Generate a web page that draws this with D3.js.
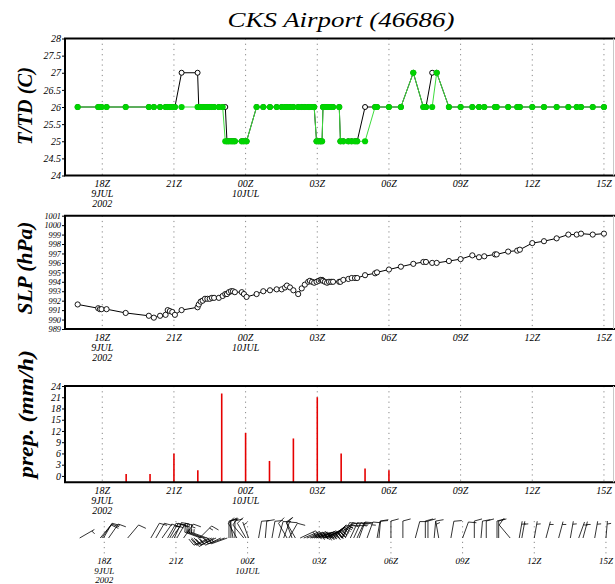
<!DOCTYPE html>
<html>
<head>
<meta charset="utf-8">
<script src="https://cdn.jsdelivr.net/npm/d3@7"></script>
<style>
  body { margin: 0; background: #fff; }
  svg { display: block; }
  text { font-family: "Liberation Serif", "DejaVu Serif", serif; font-style: italic; fill: #000; }
</style>
</head>
<body>
<svg id="chart" width="615" height="584"></svg>
<script>
// Observation times, hours since 2002-07-09 00Z
const obsHour = [
  16.97,17.83,17.90,17.97,18.18,18.98,19.95,20.16,20.42,20.65,
  20.74,20.83,20.93,21.04,21.32,21.99,22.04,22.12,22.20,22.30,
  22.40,22.50,22.59,22.68,22.88,23.04,23.15,23.22,23.30,23.39,
  23.47,23.55,23.84,23.93,24.04,24.46,24.74,25.02,25.30,25.51,
  25.65,25.73,25.86,26.00,26.20,26.35,26.48,26.62,26.69,26.78,
  26.87,26.97,27.06,27.14,27.20,27.24,27.32,27.41,27.49,27.58,
  27.66,27.92,27.97,28.09,28.30,28.44,28.58,28.67,29.00,29.42,
  29.50,30.00,30.50,31.02,31.44,31.55,31.81,32.00,32.51,33.00,
  33.49,33.77,33.99,34.44,34.51,34.99,35.37,35.48,36.00,36.49,
  37.02,37.51,37.86,38.04,38.53,39.00
];
// Temperature (C)
const temp = [
  26,26,26,26,26,26,26,26,26,26,
  26,26,26,26,27,27,26,26,26,26,
  26,26,26,26,26,26,26,25,25,25,
  25,25,25,25,25,26,26,26,26,26,
  26,26,26,26,26,26,26,26,26,26,
  26,25,25,25,25,26,26,26,26,26,
  26,26,25,25,25,25,25,25,26,26,
  26,26,26,27,26,26,27,27,26,26,
  26,26,26,26,26,26,26,26,26,26,
  26,26,26,26,26,26
];
// Dew point (C)
const dewpt = [
  26,26,26,26,26,26,26,26,26,26,
  26,26,26,26,26,26,26,26,26,26,
  26,26,26,26,26,26,25,25,25,25,
  25,25,25,25,25,26,26,26,26,26,
  26,26,26,26,26,26,26,26,26,26,
  26,25,25,25,25,26,26,26,26,26,
  26,26,25,25,25,25,25,25,25,26,
  26,26,26,27,26,26,26,27,26,26,
  26,26,26,26,26,26,26,26,26,26,
  26,26,26,26,26,26
];
// Sea-level pressure (hPa)
const slp = [
  991.6,991.2,991.1,991.1,991.1,990.7,990.4,990.2,990.4,990.5,
  991.0,990.9,990.8,990.5,991.0,991.3,991.6,991.9,992.0,992.2,
  992.2,992.2,992.3,992.3,992.3,992.5,992.7,992.7,992.9,993.0,
  993.0,992.9,992.9,992.7,992.4,992.7,993.0,993.1,993.2,993.2,
  993.4,993.6,993.4,993.1,992.7,993.3,993.7,994.0,994.1,994.0,
  993.9,994.0,994.1,994.2,994.2,994.1,994.0,993.9,994.0,994.0,
  994.0,994.0,994.0,994.2,994.3,994.4,994.4,994.4,994.7,994.9,
  995.0,995.3,995.6,995.9,996.1,996.1,996.0,996.0,996.2,996.4,
  996.8,996.6,996.7,996.9,996.9,997.2,997.3,997.4,998.1,998.3,
  998.6,999.0,999.0,999.1,999.0,999.1
];
// Wind direction (deg, from) and speed (kt)
const windDir = [
  60,40,35,30,35,40,30,30,35,30,
  30,35,25,30,35,45,290,290,290,290,
  245,245,240,245,245,250,250,0,0,350,
  0,330,320,330,340,10,5,10,15,20,
  330,30,340,330,65,68,70,68,70,72,
  70,68,65,70,65,65,60,55,50,45,
  40,35,25,25,25,25,25,20,20,10,
  5,0,0,15,0,0,5,350,10,20,
  0,5,0,0,0,320,10,10,10,15,
  15,10,20,15,10,5
];
const windSpd = [
  5,10,10,10,10,10,10,10,10,15,
  15,15,10,15,15,15,15,15,15,15,
  20,20,20,20,20,15,15,10,10,10,
  10,10,10,10,5,10,10,10,10,10,
  10,10,10,10,20,25,25,25,25,25,
  20,25,20,20,20,20,20,20,15,15,
  15,15,15,15,15,15,15,15,15,10,
  10,10,10,10,10,10,10,5,10,10,
  10,10,10,10,10,10,5,5,5,5,
  5,5,5,5,5,5
];
// Hourly precipitation (mm/h)
const rainHour = [19,20,21,22,23,24,25,26,27,28,29,30];
const rainRate = [0.5,0.5,6,1.5,22,11.5,4,10,21,6,2,1.5];

// Axis ticks
const tickHours = [18,21,24,27,30,33,36,39];
const tickLabels = [["18Z","9JUL","2002"],["21Z"],["00Z","10JUL"],["03Z"],["06Z"],["09Z"],["12Z"],["15Z"]];
const tTicks = [24,24.5,25,25.5,26,26.5,27,27.5,28];
const slpTicks = [989,990,991,992,993,994,995,996,997,998,999,1000,1001];
const rainTicks = [0,3,6,9,12,15,18,21,24];

const svg = d3.select("#chart");
const x = d3.scaleLinear().domain([16.44, 39.4]).range([65, 613.5]);

const panels = {
  t:    { top: 38.5,  bottom: 175.5, domain: [24, 28],    ticks: tTicks,    fs: 10,  title: "T/TD (C)",     tx: 25, cy: 106, len: 78 },
  slp:  { top: 215.7, bottom: 329,   domain: [989, 1001], ticks: slpTicks,  fs: 8.3, title: "SLP (hPa)",    tx: 25, cy: 268, len: 93 },
  rain: { top: 386,   bottom: 482.3, domain: [-1.7, 24],  ticks: rainTicks, fs: 10,  title: "prep. (mm/h)", tx: 26, cy: 414, len: 128 }
};

function drawPanel(p) {
  const y = d3.scaleLinear().domain(p.domain).range([p.bottom, p.top]);
  const g = svg.append("g");
  // dotted time grid
  g.selectAll("line.grid").data(tickHours).join("line")
    .attr("x1", d => x(d)).attr("x2", d => x(d))
    .attr("y1", p.top).attr("y2", p.bottom)
    .attr("stroke", "#888").attr("stroke-width", 1)
    .attr("stroke-dasharray", "1.2,4");
  // left axis
  const ax = g.append("g").attr("transform", `translate(${x.range()[0]},0)`)
    .call(d3.axisLeft(y).tickValues(p.ticks).tickSize(3).tickPadding(1).tickFormat(d => String(d)));
  ax.select(".domain").remove();
  ax.selectAll("text").attr("font-size", p.fs).attr("font-family", null).style("font-style", "italic");
  // time labels
  tickHours.forEach((h, i) => {
    tickLabels[i].forEach((s, j) => {
      g.append("text").attr("x", x(h)).attr("y", p.bottom + 11.5 + j * 10)
        .attr("text-anchor", "middle").attr("font-size", 10).text(s);
    });
  });
  // panel title on the left
  g.append("text").attr("transform", `translate(${p.tx},${p.cy}) rotate(-90)`)
    .attr("text-anchor", "middle").attr("dy", "0.35em")
    .attr("font-size", 20).attr("font-weight", "bold")
    .attr("textLength", p.len).attr("lengthAdjust", "spacingAndGlyphs")
    .text(p.title);
  p.y = y;
  p.g = g;
  return p;
}

function drawFrame(p) {
  const [x0, x1] = x.range();
  p.g.append("path")
    .attr("d", `M615,${p.top}H${x0}V${p.bottom}H615`)
    .attr("fill", "none").attr("stroke", "#000").attr("stroke-width", 2);
  p.g.append("line").attr("x1", x1).attr("x2", x1).attr("y1", p.top).attr("y2", p.bottom)
    .attr("stroke", "#c8c8c8").attr("stroke-width", 1);
}

// Title
svg.append("text").attr("x", 341).attr("y", 27).attr("text-anchor", "middle")
  .attr("font-size", 21).attr("textLength", 227).attr("lengthAdjust", "spacingAndGlyphs")
  .text("CKS Airport (46686)");

const obs = obsHour.map((h, i) => ({ h, t: temp[i], td: dewpt[i], p: slp[i], dir: windDir[i], spd: windSpd[i] }));

// --- Temperature / dew point ---
const pT = drawPanel(panels.t);
const lineT = d3.line().x(d => x(d.h)).y(d => pT.y(d.t));
const lineTd = d3.line().x(d => x(d.h)).y(d => pT.y(d.td));
pT.g.append("path").attr("d", lineT(obs)).attr("fill", "none").attr("stroke", "#000").attr("stroke-width", 1);
pT.g.selectAll("circle.t").data(obs).join("circle")
  .attr("cx", d => x(d.h)).attr("cy", d => pT.y(d.t)).attr("r", 2.5)
  .attr("fill", "#fff").attr("stroke", "#000").attr("stroke-width", 1);
pT.g.append("path").attr("d", lineTd(obs)).attr("fill", "none").attr("stroke", "#3ddc3d").attr("stroke-width", 1);
pT.g.selectAll("circle.td").data(obs).join("circle")
  .attr("cx", d => x(d.h)).attr("cy", d => pT.y(d.td)).attr("r", 3.1)
  .attr("fill", "#00d400");
drawFrame(pT);

// --- Sea-level pressure ---
const pS = drawPanel(panels.slp);
const lineP = d3.line().x(d => x(d.h)).y(d => pS.y(d.p));
pS.g.append("path").attr("d", lineP(obs)).attr("fill", "none").attr("stroke", "#000").attr("stroke-width", 1);
pS.g.selectAll("circle.p").data(obs).join("circle")
  .attr("cx", d => x(d.h)).attr("cy", d => pS.y(d.p)).attr("r", 2.6)
  .attr("fill", "#fff").attr("stroke", "#000").attr("stroke-width", 0.9);
drawFrame(pS);

// --- Hourly precipitation ---
const pR = drawPanel(panels.rain);
const rain = rainHour.map((h, i) => ({ h, v: rainRate[i] }));
pR.g.selectAll("line.bar").data(rain).join("line")
  .attr("x1", d => x(d.h)).attr("x2", d => x(d.h))
  .attr("y1", pR.y(pR.y.domain()[0])).attr("y2", d => pR.y(d.v))
  .attr("stroke", "#e60000").attr("stroke-width", 1.6);
drawFrame(pR);

// --- Wind barbs ---
const barbBase = 538, barbShift = 2;
const gw = svg.append("g");
gw.selectAll("line.grid").data(tickHours).join("line")
  .attr("x1", d => x(d) + barbShift).attr("x2", d => x(d) + barbShift)
  .attr("y1", 521).attr("y2", 558)
  .attr("stroke", "#888").attr("stroke-width", 1).attr("stroke-dasharray", "1.2,4");
tickHours.forEach((h, i) => {
  tickLabels[i].forEach((s, j) => {
    gw.append("text").attr("x", x(h) + barbShift).attr("y", 564 + j * 9.6)
      .attr("text-anchor", "middle").attr("font-size", 9).text(s);
  });
});

function barbPath(x0, y0, dir, spd) {
  const L = 17, F = 8, sp = 3, off = 75;
  const r = dir * Math.PI / 180;
  const ux = Math.sin(r), uy = -Math.cos(r);
  const tx = x0 + L * ux, ty = y0 + L * uy;
  const fr = (dir + off) * Math.PI / 180;
  const fx = Math.sin(fr), fy = -Math.cos(fr);
  let d = `M${x0},${y0}L${tx},${ty}`;
  const n = Math.round(spd / 5);
  const full = Math.floor(n / 2), half = n % 2;
  let pos = (full === 0 && half) ? sp : 0;
  for (let k = 0; k < full; k++) {
    const px = tx - pos * ux, py = ty - pos * uy;
    d += `M${px},${py}l${F * fx},${F * fy}`;
    pos += sp;
  }
  if (half) {
    const px = tx - pos * ux, py = ty - pos * uy;
    d += `M${px},${py}l${F / 2 * fx},${F / 2 * fy}`;
  }
  return d;
}
gw.selectAll("path.barb").data(obs).join("path")
  .attr("d", d => barbPath(x(d.h) + barbShift, barbBase, d.dir, d.spd))
  .attr("fill", "none").attr("stroke", "#000").attr("stroke-width", 0.8);
</script>
</body>
</html>
